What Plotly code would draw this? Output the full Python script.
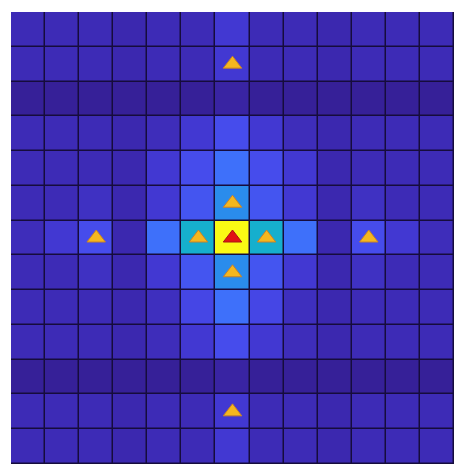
import plotly.graph_objects as go

# grid coordinates (13 x 13 cells)
col_labels = list(range(13))
row_labels = list(range(13))

# cell intensity (row 0 = top)
intensity = [
    [0.08, 0.08, 0.08, 0.06, 0.08, 0.08, 0.15, 0.08, 0.08, 0.06, 0.08, 0.08, 0.08],
    [0.08, 0.08, 0.08, 0.06, 0.08, 0.08, 0.15, 0.08, 0.08, 0.06, 0.08, 0.08, 0.08],
    [0.00, 0.00, 0.00, 0.00, 0.00, 0.00, 0.03, 0.00, 0.00, 0.00, 0.00, 0.00, 0.00],
    [0.08, 0.08, 0.08, 0.06, 0.09, 0.15, 0.22, 0.15, 0.09, 0.06, 0.08, 0.08, 0.08],
    [0.08, 0.08, 0.08, 0.06, 0.15, 0.22, 0.30, 0.22, 0.15, 0.06, 0.08, 0.08, 0.08],
    [0.08, 0.08, 0.11, 0.06, 0.15, 0.24, 0.40, 0.24, 0.15, 0.06, 0.11, 0.08, 0.08],
    [0.09, 0.15, 0.22, 0.06, 0.30, 0.55, 1.00, 0.55, 0.30, 0.06, 0.22, 0.15, 0.09],
    [0.08, 0.08, 0.11, 0.06, 0.15, 0.24, 0.40, 0.24, 0.15, 0.06, 0.11, 0.08, 0.08],
    [0.08, 0.08, 0.08, 0.06, 0.10, 0.20, 0.30, 0.20, 0.10, 0.06, 0.08, 0.08, 0.08],
    [0.08, 0.08, 0.08, 0.06, 0.09, 0.15, 0.22, 0.15, 0.09, 0.06, 0.08, 0.08, 0.08],
    [0.00, 0.00, 0.00, 0.00, 0.00, 0.00, 0.03, 0.00, 0.00, 0.00, 0.00, 0.00, 0.00],
    [0.08, 0.08, 0.08, 0.06, 0.08, 0.08, 0.15, 0.08, 0.08, 0.06, 0.08, 0.08, 0.08],
    [0.08, 0.08, 0.08, 0.06, 0.08, 0.08, 0.15, 0.08, 0.08, 0.06, 0.08, 0.08, 0.08],
]

# secondary targets (orange triangles)
target_cols = [6, 6, 5, 7, 6, 2, 10, 6]
target_rows = [1, 5, 6, 6, 7, 6, 6, 11]
# main target (red triangle)
main_cols = [6]
main_rows = [6]

colorscale = [
    [0.00, "rgb(54,32,152)"],
    [0.08, "rgb(61,43,182)"],
    [0.15, "rgb(66,56,210)"],
    [0.22, "rgb(70,76,236)"],
    [0.30, "rgb(62,112,250)"],
    [0.40, "rgb(42,140,236)"],
    [0.55, "rgb(22,175,205)"],
    [0.70, "rgb(120,195,120)"],
    [0.85, "rgb(240,190,50)"],
    [1.00, "rgb(250,250,20)"],
]

fig = go.Figure()
fig.add_trace(go.Heatmap(
    x=col_labels, y=row_labels, z=intensity,
    colorscale=colorscale, zmin=0, zmax=1, showscale=False,
    xgap=1.5, ygap=1.5, hoverinfo="skip",
))
fig.add_trace(go.Scatter(
    x=target_cols, y=target_rows, mode="markers",
    marker=dict(symbol="triangle-up", size=16, color="rgb(245,183,30)",
                line=dict(color="rgb(200,130,40)", width=1)),
    showlegend=False, hoverinfo="skip",
))
fig.add_trace(go.Scatter(
    x=main_cols, y=main_rows, mode="markers",
    marker=dict(symbol="triangle-up", size=16, color="rgb(225,20,20)",
                line=dict(color="rgb(170,20,20)", width=1)),
    showlegend=False, hoverinfo="skip",
))

fig.update_layout(
    width=462, height=469,
    margin=dict(l=11, r=8, t=12, b=5),
    paper_bgcolor="white",
    plot_bgcolor="rgb(22,12,60)",
    xaxis=dict(range=[-0.5, 12.5], visible=False, fixedrange=True),
    yaxis=dict(range=[12.5, -0.5], visible=False, fixedrange=True),
)
fig.write_html("out.html")
